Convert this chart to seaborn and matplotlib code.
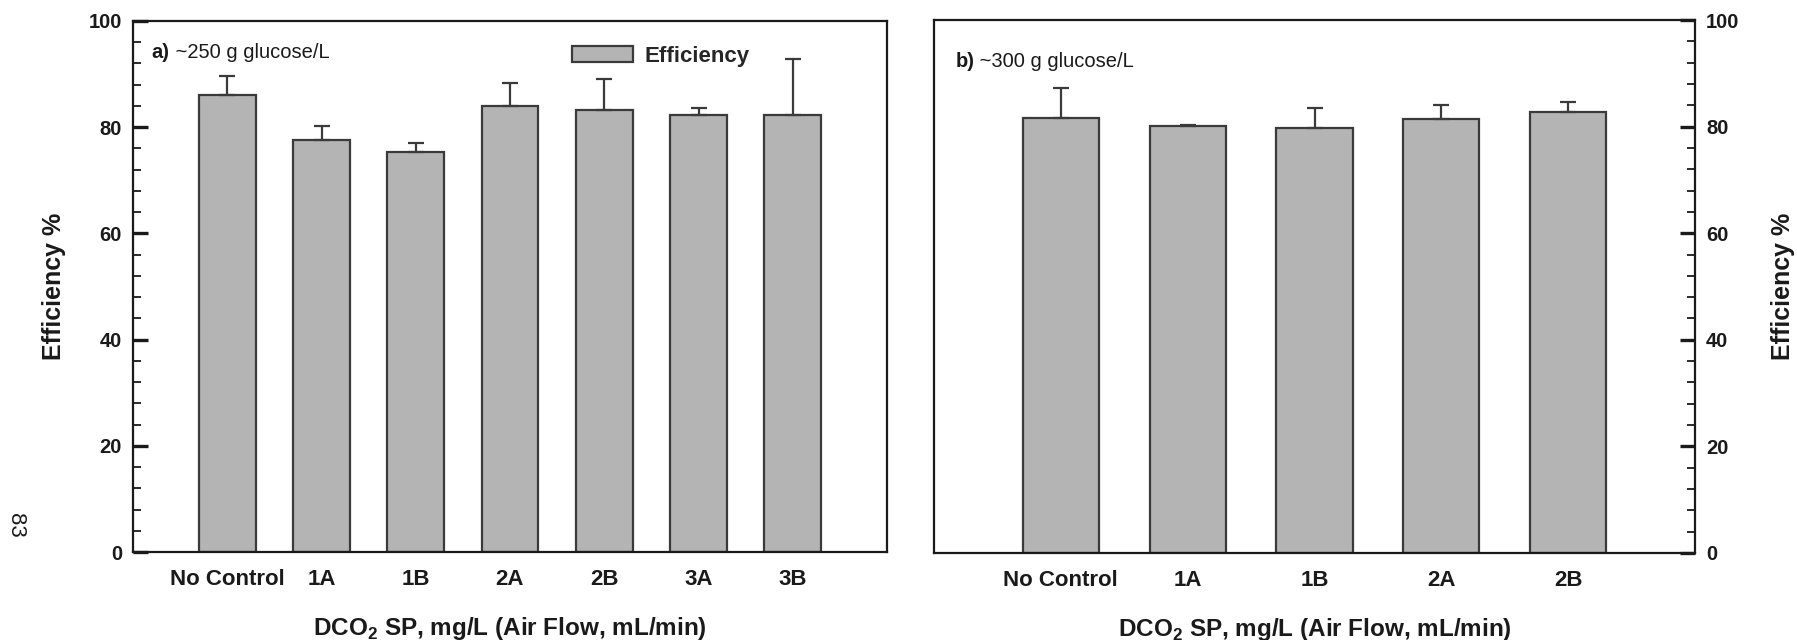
import matplotlib
matplotlib.use("Agg")
import matplotlib.pyplot as plt
from matplotlib.ticker import MultipleLocator
from matplotlib.patches import Patch
import numpy as np
import seaborn as sns

# Panel a) ~250 g glucose/L
cats_a = ["No Control", "1A", "1B", "2A", "2B", "3A", "3B"]
eff_a = [86.1, 77.6, 75.4, 83.9, 83.2, 82.3, 82.3]
err_a = [3.5, 2.7, 1.6, 4.4, 5.8, 1.3, 10.6]

# Panel b) ~300 g glucose/L
cats_b = ["No Control", "1A", "1B", "2A", "2B"]
eff_b = [81.7, 80.2, 79.7, 81.4, 82.8]
err_b = [5.5, 0.15, 3.7, 2.7, 1.8]

sns.set_theme(style="white")
plt.rcParams["font.family"] = ["Liberation Sans", "DejaVu Sans"]
plt.rcParams["mathtext.fontset"] = "custom"
plt.rcParams["mathtext.rm"] = "Liberation Sans"
plt.rcParams["mathtext.bf"] = "Liberation Sans:bold"

BAR = "#b4b4b4"
EDGE = "#3a3a3a"
INK = "#1a1a1a"
XLABEL = r"DCO$_\mathbf{2}$ SP, mg/L (Air Flow, mL/min)"

fig = plt.figure(figsize=(17.97, 6.4), dpi=100)
ax1 = fig.add_axes([133 / 1797, 88 / 640, 754 / 1797, 531 / 640])
ax2 = fig.add_axes([934 / 1797, 87 / 640, 761 / 1797, 533 / 640])


def draw_panel(ax, cats, vals, errs, side):
    sns.barplot(x=cats, y=vals, color=BAR, saturation=1, width=0.6,
                edgecolor=EDGE, linewidth=1.6, errorbar=None, ax=ax, zorder=2)
    xs = np.arange(len(cats))
    ax.errorbar(xs, vals, yerr=[np.zeros(len(vals)), errs], fmt="none",
                ecolor=EDGE, elinewidth=1.6, capsize=6, capthick=1.6, zorder=3)
    ax.set_xlim(-1, len(cats))
    ax.set_ylim(0, 100)
    ax.yaxis.set_major_locator(MultipleLocator(20))
    ax.yaxis.set_minor_locator(MultipleLocator(4))
    for s in ax.spines.values():
        s.set_visible(True)
        s.set_linewidth(1.6)
        s.set_color(INK)
    ax.tick_params(axis="y", which="major", direction="in", length=11,
                   width=2.4, color=INK, pad=8, labelsize=14.5, labelcolor=INK)
    ax.tick_params(axis="y", which="minor", direction="in", length=6,
                   width=1.3, color=INK)
    ax.tick_params(axis="x", which="major", direction="out", length=2.5,
                   width=1.0, color="#777777", pad=10, labelsize=16,
                   labelcolor=INK)
    if side == "right":
        ax.yaxis.tick_right()
        ax.yaxis.set_label_position("right")
        ax.tick_params(axis="y", which="both", left=False, right=True)
    else:
        ax.tick_params(axis="y", which="both", left=True, right=False)
    for lab in ax.get_xticklabels() + ax.get_yticklabels():
        lab.set_fontweight("bold")
    ax.set_xlabel(XLABEL, fontsize=17.5, fontweight="bold", color=INK)
    ax.xaxis.set_label_coords(0.5, -0.118)
    ax.set_ylabel("Efficiency %", fontsize=18, fontweight="bold", color=INK)
    ax.yaxis.label.set_verticalalignment("center")


draw_panel(ax1, cats_a, eff_a, err_a, "left")
draw_panel(ax2, cats_b, eff_b, err_b, "right")
ax1.yaxis.set_label_coords(-0.105, 0.5)
ax2.yaxis.set_label_coords(1.115, 0.5)

# Panel captions: bold letter followed by plain text
for ax, letter, rest, pos in [(ax1, "a)", " ~250 g glucose/L", (0.025, 0.94)),
                              (ax2, "b)", " ~300 g glucose/L", (0.028, 0.922))]:
    t = ax.text(pos[0], pos[1], letter, transform=ax.transAxes, fontsize=14.5,
                fontweight="bold", color=INK, va="center", ha="left")
    ax.annotate(rest, xy=(1, 0.5), xycoords=t, va="center", ha="left",
                fontsize=14.5, color=INK)

ax1.legend(handles=[Patch(facecolor=BAR, edgecolor=EDGE, linewidth=1.6,
                          label="Efficiency")],
           loc="upper left", bbox_to_anchor=(0.582, 0.953), frameon=False,
           handlelength=2.75, handleheight=0.7, handletextpad=0.5,
           borderpad=0, borderaxespad=0,
           prop={"size": 16, "weight": "bold"})

# page number printed sideways in the margin
fig.text(15 / 1797, 1 - 525 / 640, "83", rotation=-90, fontsize=16,
         ha="center", va="center", color=INK)

fig.savefig("out.png", dpi=100)
